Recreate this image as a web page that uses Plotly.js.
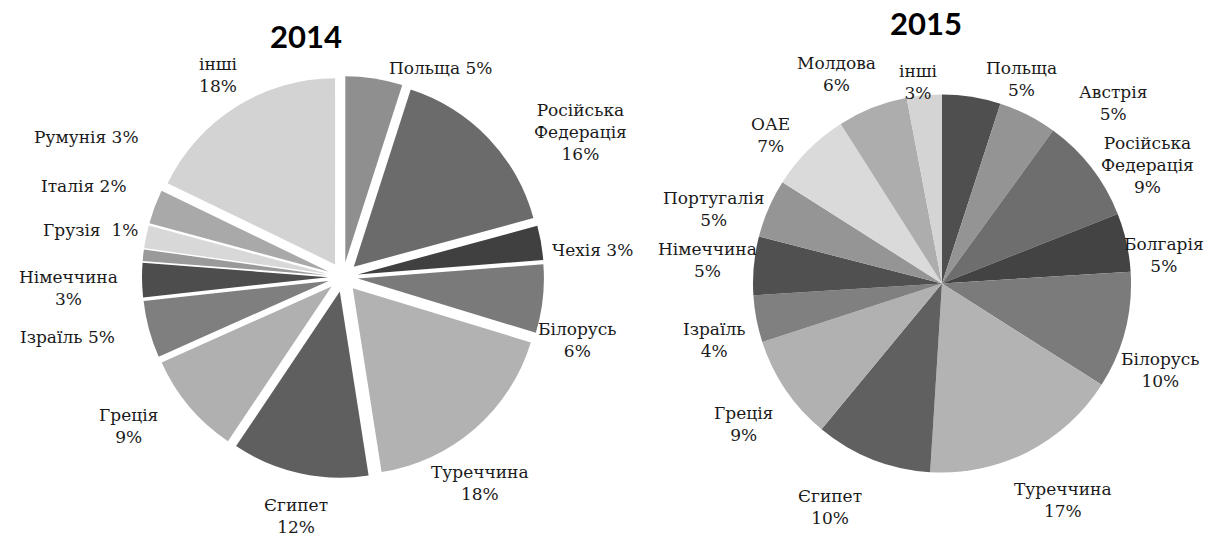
<!DOCTYPE html>
<html><head><meta charset="utf-8">
<script src="https://cdn.plot.ly/plotly-3.0.1.min.js"></script>
<style>html,body{margin:0;padding:0;background:#fff}#chart{width:1211px;height:540px}</style>
</head><body><div id="chart"></div>
<script>
// ---- data ----
const countries2014 = ["Польща","Російська Федерація","Чехія","Білорусь","Туреччина","Єгипет","Греція","Ізраїль","Німеччина","Грузія","Італія","Румунія","інші"];
const shares2014 = [5,16,3,6,18,12,9,5,3,1,2,3,18];
const countries2015 = ["Польща","Австрія","Російська Федерація","Болгарія","Білорусь","Туреччина","Єгипет","Греція","Ізраїль","Німеччина","Португалія","ОАЕ","Молдова","інші"];
const shares2015 = [5,5,9,5,10,17,10,9,4,5,5,7,6,3];
const titles = ["2014","2015"];

// ---- styles ----
const colors2014 = ["#8f8f8f","#6b6b6b","#404040","#7a7a7a","#b2b2b2","#5f5f5f","#b0b0b0","#7f7f7f","#4d4d4d","#9a9a9a","#d8d8d8","#a9a9a9","#d3d3d3"];
const colors2015 = ["#4f4f4f","#949494","#6e6e6e","#434343","#7b7b7b","#b3b3b3","#606060","#b1b1b1","#808080","#505050","#959595","#dadada","#adadad","#d4d4d4"];
// label placement in pixels: [x, y, break-style]  (0 = one line, 1 = two lines, 2 = name split too)
const pos2014 = [[440,68,0],[580,132,2],[592,250,0],[577,340,1],[480,483,1],[296,516,1],[128,426,1],[67,337,0],[68,288,1],[90,230,0],[84,186,0],[86,137,0],[218,75,1]];
const pos2015 = [[1021,79,1],[1113,103,1],[1147,165,2],[1164,255,1],[1160,370,1],[1063,500,1],[830,507,1],[743,424,1],[715,340,1],[707,260,1],[713,209,1],[770,135,1],[836,74,1],[919,82,1]];

const W = 1211, H = 540;
const labelFont = {family: "DejaVu Serif", size: 17, color: "#1a1a1a"};
function makeLabel(name, val, p){
  let nm = p[2] === 2 ? name.replace(" ", "<br>") : name;
  let sep = p[2] === 0 ? (name === "Грузія" ? "\u00a0 " : " ") : "<br>";
  return {x: p[0]/W, y: 1 - p[1]/H, xref:"paper", yref:"paper", xanchor:"center", yanchor:"middle",
    showarrow:false, text: nm + sep + val + "%", font: labelFont};
}
const ann = [];
countries2014.forEach((c,i)=>ann.push(makeLabel(c, shares2014[i], pos2014[i])));
countries2015.forEach((c,i)=>ann.push(makeLabel(c, shares2015[i], pos2015[i])));
const titleFont = {family:'Lato', size:31, color:"#000"};
ann.push({x:306/W, y:1-36/H, xref:"paper", yref:"paper", xanchor:"center", yanchor:"middle", showarrow:false, text:"<b>"+titles[0]+"</b>", font:titleFont});
ann.push({x:926/W, y:1-23/H, xref:"paper", yref:"paper", xanchor:"center", yanchor:"middle", showarrow:false, text:"<b>"+titles[1]+"</b>", font:titleFont});

const trace14 = {type:"pie", labels:countries2014, values:shares2014, sort:false, direction:"clockwise", rotation:0,
  pull: shares2014.map(()=>0.08), textinfo:"none", hoverinfo:"label+percent",
  marker:{colors:colors2014, line:{width:0}},
  domain:{x:[142/W, 544/W], y:[(263-201)/H, (263+201)/H]}, showlegend:false};
const trace15 = {type:"pie", labels:countries2015, values:shares2015, sort:false, direction:"clockwise", rotation:0,
  textinfo:"none", hoverinfo:"label+percent",
  marker:{colors:colors2015, line:{width:0}},
  domain:{x:[753/W, 1131/W], y:[67.5/H, 445.5/H]}, showlegend:false};

Plotly.newPlot("chart", [trace14, trace15], {
  width:W, height:H, margin:{l:0,r:0,t:0,b:0}, paper_bgcolor:"#fff", showlegend:false, annotations:ann
}, {displayModeBar:false, staticPlot:true});
</script></body></html>
